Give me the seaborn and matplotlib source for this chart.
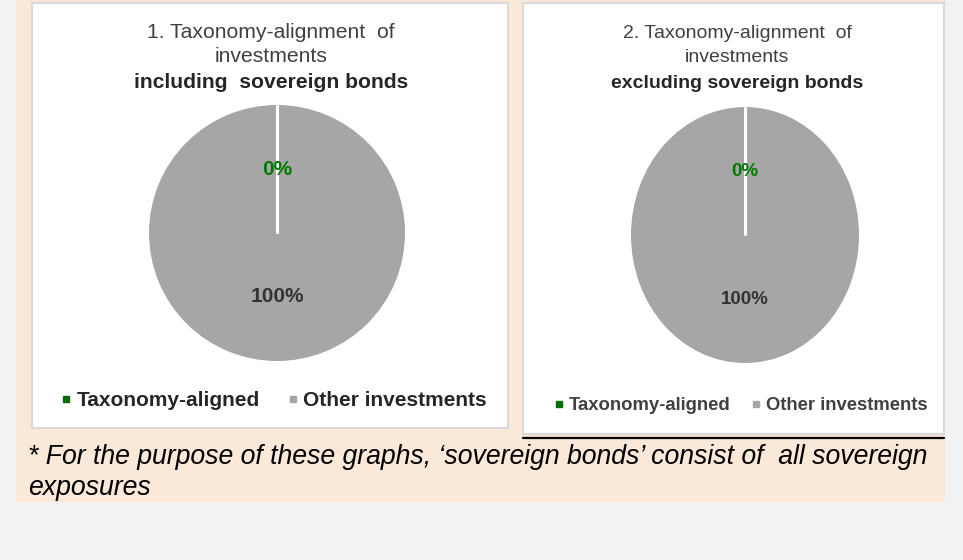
import matplotlib
matplotlib.use("Agg")
import numpy as np
import matplotlib.pyplot as plt
from matplotlib.patches import Rectangle
from matplotlib.lines import Line2D
import seaborn as sns

# ---------------- data ----------------
categories = ["Taxonomy-aligned", "Other investments"]
incl_values = [0, 100]
excl_values = [0, 100]
pie_colors = ["#006e00", "#a6a6a6"]
label_colors = ["#007a00", "#333333"]
title1 = ["1. Taxonomy-alignment  of", "investments", "including  sovereign bonds"]
title2 = ["2. Taxonomy-alignment  of", "investments", "excluding sovereign bonds"]
footnote = ["* For the purpose of these graphs, \u2018sovereign bonds\u2019 consist of  all sovereign",
            "exposures"]

sns.set_theme(style="white")
plt.rcParams["font.family"] = ["Liberation Sans", "DejaVu Sans"]

W, H = 963, 560
fig = plt.figure(figsize=(W / 100, H / 100), dpi=100)
fig.patch.set_facecolor("#f2f2f2")


def fx(x):
    return x / W


def fy(y):
    return 1 - y / H


def rect(x0, y0, x1, y1, **kw):
    fig.patches.append(Rectangle((fx(x0), fy(y1)), fx(x1) - fx(x0), fy(y0) - fy(y1),
                                 transform=fig.transFigure, **kw))


# backgrounds
rect(16, 0, 945, 502, facecolor="#fae8d8", edgecolor="none", zorder=-3)
rect(32, 3, 508, 428, facecolor="white", edgecolor="#d9d9d9", linewidth=1.5, zorder=-2)
rect(523, 3, 944, 434, facecolor="white", edgecolor="#d9d9d9", linewidth=1.5, zorder=-2)
fig.lines.append(Line2D([fx(523), fx(944)], [fy(438), fy(438)], color="black",
                        linewidth=1.6, transform=fig.transFigure, zorder=-1))


def draw_pie(values, box, fs_pct):
    x0, y0, x1, y1 = box
    ax = fig.add_axes([fx(x0), fy(y1), fx(x1) - fx(x0), fy(y0) - fy(y1)])
    ax.set_zorder(2)
    wedges, _, autotexts = ax.pie(values, colors=pie_colors, startangle=90,
                                  autopct=lambda p: f"{p:.0f}%", pctdistance=0.5,
                                  wedgeprops=dict(linewidth=0),
                                  textprops=dict(fontsize=fs_pct, fontweight="bold"))
    for t, c in zip(autotexts, label_colors):
        t.set_color(c)
    # white separator at the wedge boundaries (taken from the wedges themselves)
    for w in wedges:
        th = np.deg2rad(w.theta1)
        ax.plot([w.center[0], w.center[0] + w.r * np.cos(th)],
                [w.center[1], w.center[1] + w.r * np.sin(th)],
                color="white", linewidth=2.2, solid_capstyle="butt", zorder=3)
    for t in autotexts:
        t.set_zorder(4)
    ax.set_aspect("auto")
    ax.set_xlim(-1, 1)
    ax.set_ylim(-1, 1)
    ax.patch.set_alpha(0)
    return ax


draw_pie(incl_values, (149, 105, 405, 361), 15)
draw_pie(excl_values, (631, 107, 859, 363), 13.5)

# titles
for txt, y, w in zip(title1, [32, 57, 82], ["normal", "normal", "bold"]):
    fig.text(fx(271), fy(y), txt, ha="center", va="center", fontsize=15.2,
             fontweight=w, color="#404040" if w == "normal" else "#262626")
for txt, y, w in zip(title2, [33, 58, 84], ["normal", "normal", "bold"]):
    fig.text(fx(737), fy(y), txt, ha="center", va="center", fontsize=14,
             fontweight=w, color="#404040" if w == "normal" else "#262626")


# legends
def make_handles(ms):
    return [Line2D([], [], marker="s", linestyle="", color=c, markersize=ms) for c in pie_colors]


leg1 = fig.legend(make_handles(4.5), categories, loc="center", bbox_to_anchor=(fx(274.5), fy(401)),
                  ncol=2, frameon=False, handlelength=0.4, handletextpad=0.3,
                  columnspacing=1.4, prop=dict(size=15, weight="bold"))
for t in leg1.get_texts():
    t.set_color("#262626")
leg2 = fig.legend(make_handles(4.2), categories, loc="center", bbox_to_anchor=(fx(741.5), fy(406)),
                  ncol=2, frameon=False, handlelength=0.4, handletextpad=0.35,
                  columnspacing=1.2, prop=dict(size=13.3, weight="bold"))
for t in leg2.get_texts():
    t.set_color("#404040")

# footnote
fig.text(fx(28), fy(457), footnote[0], ha="left", va="center", fontsize=19.2,
         style="italic", color="black")
fig.text(fx(28), fy(488), footnote[1], ha="left", va="center", fontsize=19.2,
         style="italic", color="black")

fig.savefig("out.png", dpi=100, facecolor=fig.get_facecolor())
